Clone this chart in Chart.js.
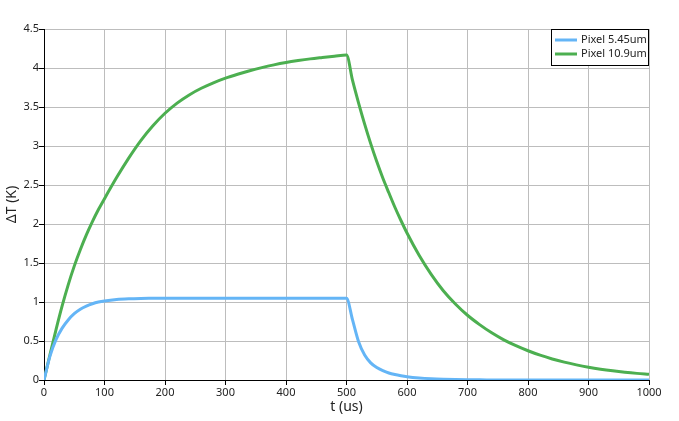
<!DOCTYPE html>
<html lang="en">
  <head>
    <title>pixel heating</title>
    <meta charset="utf-8">
    <script type="text/javascript" src="https://cdn.jsdelivr.net/npm/chart.js@4/dist/chart.umd.min.js"></script>
    <style>
      html, body {
        margin: 0;
        padding: 0;
        background: #fff;
      }
      div.main {
        width: 679px;
        height: 421px;
        position: relative;
      }
    </style>
  </head>

  <body>
    <div class="main">
      <canvas id="main-chart"></canvas>
    </div>
    <script>
      // time in us
      var times = [0, 10, 20, 30, 40, 50, 60, 70, 80, 90, 100,
                   120, 140, 160, 180, 200, 220, 240, 260, 280, 300,
                   320, 340, 360, 380, 400, 420, 440, 460, 480, 500,
                   510, 520, 530, 540, 550, 560, 570, 580, 590, 600,
                   620, 640, 660, 680, 700, 720, 740, 760, 780, 800,
                   820, 840, 860, 880, 900, 920, 940, 960, 980, 1000];

      // Pixel 5.45um, delta T in K
      var dtSmall = [0, 0.31, 0.52, 0.665, 0.77, 0.85, 0.907, 0.947, 0.977, 0.999, 1.014,
                     1.033, 1.042, 1.046, 1.047, 1.048, 1.048, 1.048, 1.048, 1.048, 1.048,
                     1.048, 1.048, 1.048, 1.048, 1.048, 1.048, 1.048, 1.048, 1.048, 1.048,
                     0.77, 0.49, 0.32, 0.22, 0.16, 0.12, 0.09, 0.07, 0.055, 0.043,
                     0.027, 0.017, 0.011, 0.007, 0.004, 0.002, 0.001, 0, 0, 0,
                     0, 0, 0, 0, 0, 0, 0, 0, 0, 0];

      // Pixel 10.9um, delta T in K
      var dtLarge = [0, 0.33, 0.65, 0.95, 1.22, 1.46, 1.67, 1.86, 2.03, 2.185, 2.325,
                     2.595, 2.845, 3.07, 3.26, 3.42, 3.55, 3.655, 3.74, 3.81, 3.87,
                     3.92, 3.965, 4.005, 4.04, 4.07, 4.095, 4.117, 4.135, 4.152, 4.167,
                     3.84, 3.55, 3.28, 3.03, 2.8, 2.59, 2.4, 2.215, 2.045, 1.885,
                     1.6, 1.355, 1.145, 0.975, 0.83, 0.71, 0.605, 0.515, 0.44, 0.375,
                     0.318, 0.27, 0.229, 0.194, 0.164, 0.139, 0.118, 0.1, 0.085, 0.073];

      var labels = ['Pixel 5.45um', 'Pixel 10.9um'];
      var colors = ['#64b5f6', '#4caf50'];

      function points(xs, ys) {
        var out = [];
        for (var i = 0; i < xs.length; i++) {
          out.push({x: xs[i], y: ys[i]});
        }
        return out;
      }

      // legend drawn inside the plot, top right, with a black frame
      var boxLegend = {
        id: 'boxLegend',
        afterDraw: function (chart) {
          var ctx = chart.ctx;
          var area = chart.chartArea;
          var w = 98, h = 37;
          var x0 = area.right - w, y0 = area.top;
          ctx.save();
          ctx.fillStyle = '#fff';
          ctx.fillRect(x0, y0, w, h);
          ctx.strokeStyle = '#000';
          ctx.lineWidth = 1;
          ctx.strokeRect(x0 + 0.5, y0 + 0.5, w - 1, h - 1);
          ctx.font = '11px "Noto Sans"';
          ctx.textBaseline = 'middle';
          chart.data.datasets.forEach(function (ds, i) {
            var y = y0 + 11 + i * 14;
            ctx.strokeStyle = ds.borderColor;
            ctx.lineWidth = 3;
            ctx.beginPath();
            ctx.moveTo(x0 + 4, y);
            ctx.lineTo(x0 + 26, y);
            ctx.stroke();
            ctx.fillStyle = '#222';
            ctx.fillText(ds.label, x0 + 30, y);
          });
          ctx.restore();
        }
      };

      function plain(value) {
        return String(value);
      }

      var chart = new Chart(document.getElementById('main-chart'), {
        type: 'line',
        data: {
          datasets: [
            {
              label: labels[0],
              data: points(times, dtSmall),
              borderColor: colors[0],
              backgroundColor: colors[0],
              borderWidth: 3,
              pointRadius: 0,
              fill: false,
              cubicInterpolationMode: 'monotone'
            },
            {
              label: labels[1],
              data: points(times, dtLarge),
              borderColor: colors[1],
              backgroundColor: colors[1],
              borderWidth: 3,
              pointRadius: 0,
              fill: false,
              cubicInterpolationMode: 'monotone'
            }
          ]
        },
        options: {
          responsive: true,
          maintainAspectRatio: false,
          animation: false,
          layout: { padding: { top: 29, right: 30, left: 0, bottom: 0 } },
          plugins: {
            legend: { display: false },
            tooltip: { enabled: false }
          },
          scales: {
            x: {
              type: 'linear',
              min: 0,
              max: 1000,
              afterFit: function (s) { s.height = 41; },
              ticks: {
                stepSize: 100,
                padding: 1,
                color: '#222',
                font: { family: 'Noto Sans', size: 11 },
                maxRotation: 0,
                callback: plain
              },
              grid: { color: '#bdbdbd', tickColor: '#000', tickLength: 5 },
              border: { color: '#000', width: 1 },
              title: {
                display: true,
                text: 't (us)',
                color: '#222',
                font: { family: 'Noto Sans', size: 14 },
                padding: { top: 0, bottom: 6 }
              }
            },
            y: {
              min: 0,
              max: 4.5,
              afterFit: function (s) { s.width = 44; },
              ticks: {
                stepSize: 0.5,
                padding: 0,
                color: '#222',
                font: { family: 'Noto Sans', size: 11 },
                callback: plain
              },
              grid: { color: '#bdbdbd', tickColor: '#000', tickLength: 5 },
              border: { color: '#000', width: 1 },
              title: {
                display: true,
                text: 'ΔT (K)',
                color: '#222',
                font: { family: 'Noto Sans', size: 14 },
                padding: { top: 4, bottom: 0 }
              }
            }
          }
        },
        plugins: [boxLegend]
      });
    </script>
  </body>
</html>
